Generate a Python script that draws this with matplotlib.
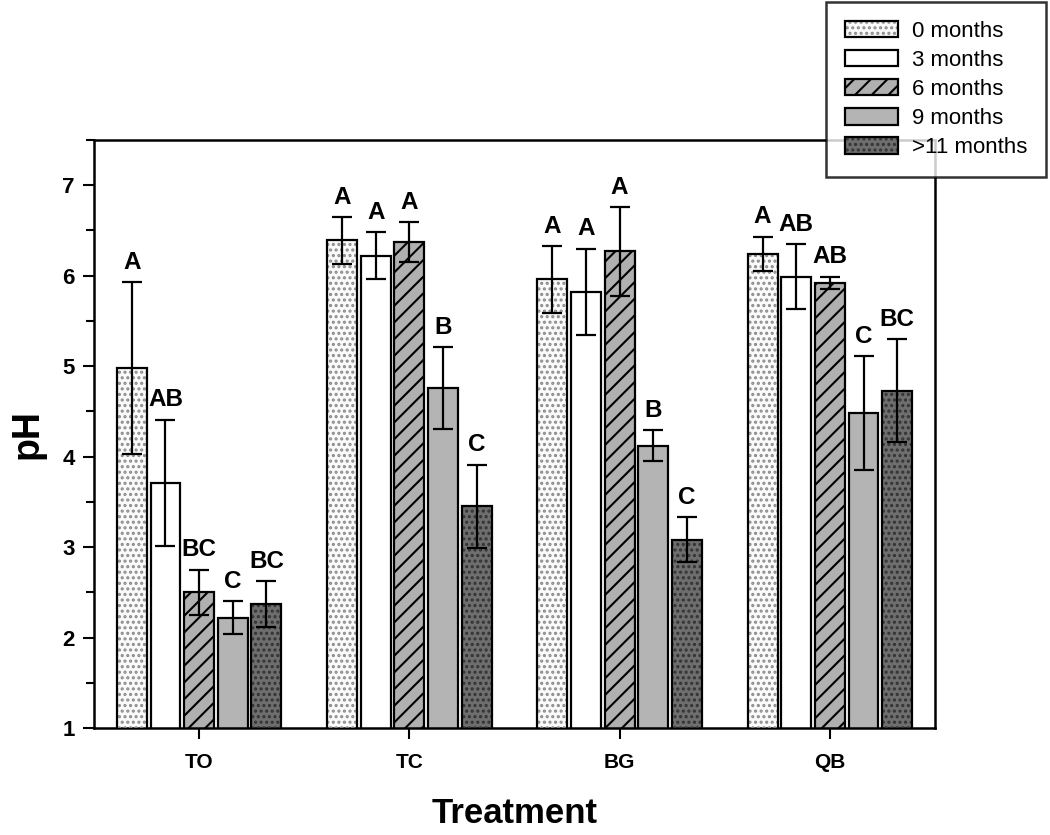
import numpy as np
import matplotlib
matplotlib.use("Agg")
import matplotlib.pyplot as plt
from matplotlib.patches import Patch
from matplotlib.legend_handler import HandlerBase
from matplotlib.ticker import MultipleLocator

plt.rcParams['font.family'] = ['Liberation Sans', 'DejaVu Sans']
plt.rcParams['hatch.linewidth'] = 1.5

# datos
tratamientos = ['TO', 'TC', 'BG', 'QB']
series = ['0 months', '3 months', '6 months', '9 months', '>11 months']
ph_0 = [4.98, 6.39, 5.96, 6.24]
ph_3 = [3.71, 6.22, 5.82, 5.99]
ph_6 = [2.50, 6.37, 6.27, 5.92]
ph_9 = [2.22, 4.76, 4.12, 4.48]
ph_11 = [2.37, 3.45, 3.08, 4.73]
err_0 = [0.95, 0.26, 0.37, 0.19]
err_3 = [0.70, 0.26, 0.48, 0.36]
err_6 = [0.25, 0.22, 0.49, 0.07]
err_9 = [0.18, 0.45, 0.17, 0.63]
err_11 = [0.25, 0.46, 0.25, 0.57]
letras_0 = ['A', 'A', 'A', 'A']
letras_3 = ['AB', 'A', 'A', 'AB']
letras_6 = ['BC', 'A', 'A', 'AB']
letras_9 = ['C', 'B', 'B', 'C']
letras_11 = ['BC', 'C', 'C', 'BC']

valores = [ph_0, ph_3, ph_6, ph_9, ph_11]
errores = [err_0, err_3, err_6, err_9, err_11]
letras = [letras_0, letras_3, letras_6, letras_9, letras_11]

# estilo de cada serie: (relleno, trama, color de trama)
estilos = [('#fafafa', '...', '#8c8c8c'),
           ('white', '', None),
           ('#b0b0b0', '//', 'black'),
           ('#b4b4b4', '', None),
           ('#6e6e6e', '...', '#333333')]

fig = plt.figure(figsize=(10.5, 8.35), dpi=100)
ax = fig.add_axes([0.0895, 0.1281, 0.8010, 0.7042])

x = np.arange(len(tratamientos))
ancho = 0.142
paso = 0.16
for i in range(len(series)):
    fc, hatch, hc = estilos[i]
    pos = x + (i - 2) * paso
    ax.bar(pos, valores[i], ancho, bottom=0, color=fc, edgecolor='none', zorder=2)
    if hatch:
        ax.bar(pos, valores[i], ancho, fill=False, hatch=hatch, edgecolor=hc,
               linewidth=0, zorder=3)
    ax.bar(pos, valores[i], ancho, fill=False, edgecolor='black', linewidth=1.6, zorder=4)
    ax.errorbar(pos, valores[i], yerr=errores[i], fmt='none', ecolor='black',
                elinewidth=1.6, capsize=7, capthick=1.6, zorder=5)
    for xp, v, e, t in zip(pos, valores[i], errores[i], letras[i]):
        ax.annotate(t, (xp, v + e), xytext=(0, 6), textcoords='offset points',
                    ha='center', va='bottom', fontsize=17.5, fontweight='bold')

ax.set_xlim(-0.5, 3.5)
ax.set_ylim(1, 7.5)
ax.set_xticks(x)
ax.set_xticklabels(tratamientos, fontsize=15, fontweight='bold')
ax.yaxis.set_major_locator(MultipleLocator(1))
ax.yaxis.set_minor_locator(MultipleLocator(0.5))
for lab in ax.get_yticklabels():
    lab.set_fontweight('bold')
ax.tick_params(axis='y', labelsize=16, width=1.5, length=8, direction='out', pad=6)
ax.tick_params(axis='y', which='minor', width=1.5, length=6)
ax.tick_params(axis='x', width=1.5, length=8, direction='out', pad=10)
for s in ax.spines.values():
    s.set_linewidth(1.8)
ax.set_ylabel('pH', fontsize=27, fontweight='bold', labelpad=12)
ax.set_xlabel('Treatment', fontsize=25, fontweight='bold', labelpad=18)


class Muestra(HandlerBase):
    def create_artists(self, legend, orig, xd, yd, w, h, fontsize, trans):
        fc, hatch, hc = orig.estilo
        arts = [plt.Rectangle((-xd, -yd), w, h, facecolor=fc, edgecolor='none', transform=trans)]
        if hatch:
            arts.append(plt.Rectangle((-xd, -yd), w, h, fill=False, hatch=hatch,
                                      edgecolor=hc, linewidth=0, transform=trans))
        arts.append(plt.Rectangle((-xd, -yd), w, h, fill=False, edgecolor='black',
                                  linewidth=1.6, transform=trans))
        return arts


manejadores = []
for i in range(len(series)):
    p = Patch(label=series[i])
    p.estilo = estilos[i]
    manejadores.append(p)

leg = fig.legend(handles=manejadores, loc='upper right', bbox_to_anchor=(0.996, 0.998),
                 handler_map={Patch: Muestra()}, fontsize=16, handlelength=2.4,
                 handleheight=0.78, labelspacing=0.36, handletextpad=0.6,
                 borderpad=0.85, borderaxespad=0, fancybox=False, frameon=True,
                 edgecolor='black')
leg.get_frame().set_linewidth(1.8)
leg.set_zorder(10)

plt.savefig("out.png", dpi=100)
